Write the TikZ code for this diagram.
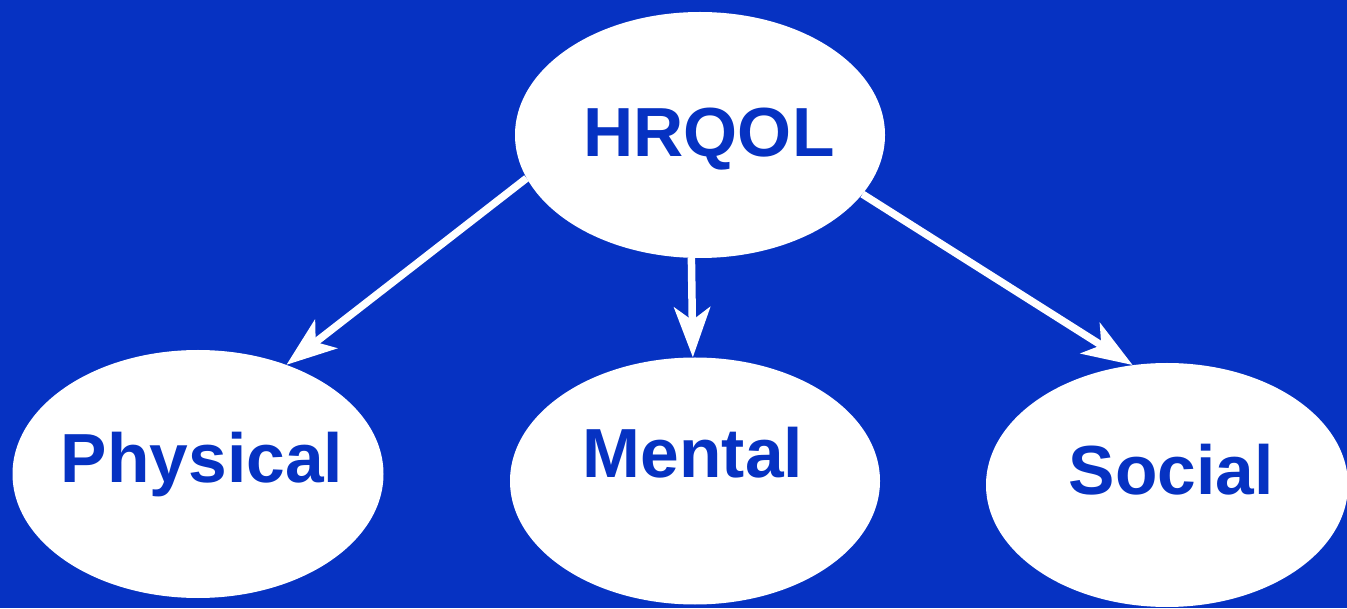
\documentclass[tikz,border=0pt]{standalone}
\usepackage{fontspec}
\setmainfont{Liberation Sans}
\usetikzlibrary{shapes.geometric,arrows.meta}
\definecolor{bg}{HTML}{0632C2}
\tikzset{
  oval/.style={ellipse, fill=white, draw=none, inner sep=0pt},
  lbl/.style={anchor=base, inner sep=0pt, text=bg, font=\fontsize{69.5}{80}\bfseries\selectfont},
  link/.style={draw=white, line width=7.5pt, -{Stealth[length=50pt,width=36pt,inset=13pt]}}
}
\begin{document}
\begin{tikzpicture}[x=1pt,y=1pt]
\useasboundingbox (0,0) rectangle (1347,608);
\clip (0,0) rectangle (1347,608);
\fill[bg] (0,0) rectangle (1347,608);
\node[oval, minimum width=370pt, minimum height=246pt] (hrqol) at (700,473) {};
\node[oval, minimum width=371pt, minimum height=248pt] (phys) at (198,134) {};
\node[oval, minimum width=370pt, minimum height=247pt] (ment) at (695,127) {};
\node[oval, minimum width=362pt, minimum height=244pt] (soc) at (1167,123) {};
\node[lbl] (thrqol) at (709,451) {HRQOL};
\node[lbl] (tphys) at (202,125) {Physical};
\node[lbl] (tment) at (693,130) {Mental};
\node[lbl] (tsoc) at (1171,113) {Social};
\draw[link] (hrqol.194.6) -- (phys.51);
\draw[link] (hrqol.266) -- (ment.91);
\draw[link] (hrqol.340.7) -- (soc.106);
\end{tikzpicture}
\end{document}
